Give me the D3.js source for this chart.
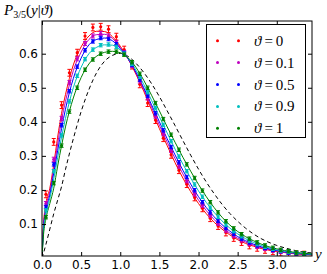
<!DOCTYPE html>
<html>
<head>
<meta charset="utf-8">
<script src="https://cdn.jsdelivr.net/npm/d3@7"></script>
<style>
  body { margin: 0; background: #fff; }
  svg { display: block; }
  .tick text { font-family: "DejaVu Sans", sans-serif; font-size: 12px; fill: #000; }
  .math { font-family: "Liberation Serif", "DejaVu Serif", serif; }
</style>
</head>
<body>
<svg id="chart" width="327" height="274"></svg>
<script>
// theta values shown in the legend
const thetas = ["0", "0.1", "0.5", "0.9", "1"];
const colors = ["#ff0000", "#bf00bf", "#0000ff", "#00bfbf", "#008000"];

// x positions of the smooth curves
const lineY = [0, 0.02, 0.05, 0.1, 0.15, 0.2, 0.25, 0.3, 0.4, 0.5, 0.6, 0.7, 0.8, 0.9, 1.0,
    1.1, 1.2, 1.3, 1.4, 1.5, 1.6, 1.7, 1.8, 1.9, 2.0, 2.1, 2.2, 2.3, 2.4, 2.5, 2.6, 2.7,
    2.8, 2.9, 3.0, 3.1, 3.2, 3.3, 3.4, 3.45];

// theory curves, one per theta
const line0 = [0, 0.10, 0.16, 0.205, 0.275, 0.355, 0.425, 0.48, 0.567, 0.62, 0.652, 0.666, 0.665, 0.65, 0.622,
    0.585, 0.54, 0.49, 0.435, 0.38, 0.33, 0.28, 0.235, 0.195, 0.16, 0.13, 0.105, 0.085, 0.068, 0.054, 0.043, 0.035,
    0.028, 0.023, 0.019, 0.016, 0.013, 0.011, 0.010, 0.009];
const line01 = [0, 0.095, 0.15, 0.195, 0.262, 0.335, 0.405, 0.46, 0.55, 0.605, 0.642, 0.656, 0.657, 0.645, 0.618,
    0.585, 0.543, 0.495, 0.443, 0.39, 0.34, 0.292, 0.247, 0.206, 0.17, 0.139, 0.113, 0.091, 0.073, 0.058, 0.047, 0.038,
    0.031, 0.025, 0.021, 0.017, 0.014, 0.012, 0.011, 0.010];
const line05 = [0, 0.09, 0.14, 0.185, 0.25, 0.315, 0.38, 0.437, 0.527, 0.587, 0.626, 0.642, 0.646, 0.638, 0.615,
    0.585, 0.546, 0.50, 0.45, 0.40, 0.35, 0.303, 0.258, 0.217, 0.18, 0.148, 0.121, 0.098, 0.079, 0.063, 0.051, 0.041,
    0.033, 0.027, 0.022, 0.018, 0.015, 0.013, 0.011, 0.011];
const line09 = [0, 0.08, 0.13, 0.175, 0.232, 0.295, 0.355, 0.41, 0.50, 0.56, 0.60, 0.619, 0.626, 0.625, 0.611,
    0.587, 0.552, 0.51, 0.463, 0.415, 0.367, 0.32, 0.276, 0.235, 0.197, 0.163, 0.134, 0.109, 0.088, 0.071, 0.057, 0.046,
    0.037, 0.030, 0.024, 0.020, 0.016, 0.014, 0.012, 0.011];
const line1 = [0, 0.07, 0.115, 0.16, 0.205, 0.27, 0.33, 0.385, 0.47, 0.53, 0.57, 0.593, 0.604, 0.607, 0.603,
    0.588, 0.56, 0.522, 0.478, 0.432, 0.385, 0.34, 0.296, 0.255, 0.216, 0.18, 0.148, 0.12, 0.097, 0.078, 0.063, 0.051,
    0.041, 0.033, 0.027, 0.022, 0.018, 0.015, 0.013, 0.012];
// dashed reference curve
const lineRef = [0, 0.015, 0.04, 0.085, 0.13, 0.17, 0.21, 0.26, 0.35, 0.43, 0.495, 0.545, 0.578, 0.595, 0.601,
    0.592, 0.572, 0.545, 0.512, 0.474, 0.432, 0.389, 0.345, 0.302, 0.261, 0.223, 0.189, 0.158, 0.131, 0.108, 0.088, 0.071,
    0.057, 0.046, 0.037, 0.030, 0.024, 0.019, 0.016, 0.015];

// histogram bin centres of the simulated points
const binY = [0.05, 0.15, 0.25, 0.35, 0.45, 0.55, 0.65, 0.75, 0.85, 0.95, 1.05, 1.15, 1.25, 1.35, 1.45, 1.55, 1.65,
    1.75, 1.85, 1.95, 2.05, 2.15, 2.25, 2.35, 2.45, 2.55, 2.65, 2.75, 2.85, 2.95, 3.05, 3.15, 3.25, 3.35];

const pts0 = [0.187, 0.341, 0.449, 0.544, 0.603, 0.652, 0.677, 0.679, 0.672, 0.650, 0.612, 0.565, 0.51, 0.455,
    0.405, 0.352, 0.303, 0.258, 0.217, 0.178, 0.146, 0.117, 0.094, 0.075, 0.059, 0.047, 0.037, 0.030, 0.024, 0.020,
    0.016, 0.013, 0.011, 0.010];
const pts01 = [0.16, 0.29, 0.41, 0.515, 0.585, 0.63, 0.652, 0.659, 0.652, 0.633, 0.603, 0.565, 0.52, 0.47,
    0.417, 0.365, 0.316, 0.27, 0.227, 0.188, 0.155, 0.126, 0.102, 0.082, 0.066, 0.053, 0.042, 0.034, 0.028, 0.023,
    0.019, 0.016, 0.013, 0.011];
const pts05 = [0.15, 0.275, 0.39, 0.49, 0.562, 0.61, 0.636, 0.646, 0.643, 0.628, 0.602, 0.567, 0.524, 0.476,
    0.425, 0.375, 0.326, 0.281, 0.238, 0.199, 0.164, 0.134, 0.109, 0.088, 0.071, 0.057, 0.046, 0.037, 0.030, 0.024,
    0.020, 0.016, 0.014, 0.012];
const pts09 = [0.14, 0.255, 0.36, 0.46, 0.535, 0.584, 0.612, 0.625, 0.627, 0.62, 0.60, 0.57, 0.532, 0.487,
    0.44, 0.391, 0.343, 0.298, 0.255, 0.216, 0.18, 0.148, 0.121, 0.098, 0.079, 0.064, 0.051, 0.041, 0.033, 0.027,
    0.022, 0.018, 0.015, 0.013];
const pts1 = [0.12, 0.22, 0.33, 0.43, 0.50, 0.553, 0.583, 0.60, 0.606, 0.606, 0.597, 0.575, 0.541, 0.50,
    0.455, 0.408, 0.362, 0.318, 0.275, 0.235, 0.198, 0.164, 0.134, 0.108, 0.087, 0.07, 0.057, 0.046, 0.037, 0.030,
    0.024, 0.020, 0.016, 0.014];
// error bar half height for each series
const errs = [0.01, 0.006, 0.005, 0.005, 0.005];

const xTicks = [0.0, 0.5, 1.0, 1.5, 2.0, 2.5, 3.0];
const yTicks = [0.1, 0.2, 0.3, 0.4, 0.5, 0.6];

const lines = [line0, line01, line05, line09, line1];
const points = [pts0, pts01, pts05, pts09, pts1];

const LEFT = 42, RIGHT = 312, TOP = 21, BOTTOM = 256;

const svg = d3.select("#chart");

const x = d3.scaleLinear().domain([0, 3.45]).range([LEFT, RIGHT]);
const y = d3.scaleLinear().domain([0.006, 0.696]).range([BOTTOM, TOP]);

svg.append("clipPath").attr("id", "plotClip")
    .append("rect")
    .attr("x", LEFT).attr("y", TOP)
    .attr("width", RIGHT - LEFT).attr("height", BOTTOM - TOP);

const plot = svg.append("g").attr("clip-path", "url(#plotClip)");

const curve = d3.line()
    .x((d, i) => x(lineY[i]))
    .y(d => y(d))
    .curve(d3.curveMonotoneX);

// dashed reference goes under the coloured ones
plot.append("path")
    .attr("d", curve(lineRef))
    .attr("fill", "none")
    .attr("stroke", "#000")
    .attr("stroke-width", 1)
    .attr("stroke-dasharray", "4,3");

lines.forEach(function(vals, s) {
    plot.append("path")
        .attr("d", curve(vals))
        .attr("fill", "none")
        .attr("stroke", colors[s])
        .attr("stroke-width", 1);
});

// simulated points with error bars
points.forEach(function(vals, s) {
    const g = plot.append("g").attr("stroke", colors[s]).attr("fill", colors[s]);
    vals.forEach(function(v, i) {
        const cx = x(binY[i]);
        const lo = y(v - errs[s]), hi = y(v + errs[s]);
        g.append("line").attr("x1", cx).attr("x2", cx).attr("y1", lo).attr("y2", hi).attr("stroke-width", 1);
        g.append("line").attr("x1", cx - 2).attr("x2", cx + 2).attr("y1", lo).attr("y2", lo).attr("stroke-width", 1);
        g.append("line").attr("x1", cx - 2).attr("x2", cx + 2).attr("y1", hi).attr("y2", hi).attr("stroke-width", 1);
        g.append("circle").attr("cx", cx).attr("cy", y(v)).attr("r", 1.6).attr("stroke", "none");
    });
});

// axes, ticks pointing inwards on all four sides
const fmt = d3.format(".1f");
svg.append("g").attr("transform", "translate(0," + BOTTOM + ")")
    .call(d3.axisBottom(x).tickValues(xTicks).tickSize(-4).tickSizeOuter(0).tickPadding(4).tickFormat(fmt));
svg.append("g").attr("transform", "translate(0," + TOP + ")")
    .call(d3.axisTop(x).tickValues(xTicks).tickSize(-4).tickSizeOuter(0).tickFormat(""));
svg.append("g").attr("transform", "translate(" + LEFT + ",0)")
    .call(d3.axisLeft(y).tickValues(yTicks).tickSize(-4).tickSizeOuter(0).tickPadding(4).tickFormat(fmt));
svg.append("g").attr("transform", "translate(" + RIGHT + ",0)")
    .call(d3.axisRight(y).tickValues(yTicks).tickSize(-4).tickSizeOuter(0).tickFormat(""));
svg.selectAll(".domain").remove();

svg.append("rect")
    .attr("x", LEFT).attr("y", TOP)
    .attr("width", RIGHT - LEFT).attr("height", BOTTOM - TOP)
    .attr("fill", "none").attr("stroke", "#000").attr("stroke-width", 1);

// y axis title (top left)
const title = svg.append("text").attr("class", "math")
    .attr("x", 4).attr("y", 15).attr("font-size", 15);
title.append("tspan").attr("font-style", "italic").text("P");
title.append("tspan").attr("font-size", 10).attr("dy", 3).text("3/5");
title.append("tspan").attr("dy", -3).text("(");
title.append("tspan").attr("font-style", "italic").text("y");
title.append("tspan").text("|");
title.append("tspan").attr("font-style", "italic").text("ϑ");
title.append("tspan").text(")");

// x axis label at the right end
svg.append("text").attr("class", "math")
    .attr("x", 315).attr("y", 259).attr("font-size", 15).attr("font-style", "italic")
    .text("y");

// legend
const legend = svg.append("g");
legend.append("rect")
    .attr("x", 206.5).attr("y", 24.5).attr("width", 99).attr("height", 113)
    .attr("fill", "#fff").attr("stroke", "#000").attr("stroke-width", 1);
thetas.forEach(function(t, i) {
    const ly = 40.7 + i * 21.9;
    [217.5, 238.5].forEach(function(lx) {
        legend.append("circle").attr("cx", lx).attr("cy", ly).attr("r", 1.5).attr("fill", colors[i]);
    });
    const tx = legend.append("text").attr("class", "math")
        .attr("x", 254).attr("y", ly + 5).attr("font-size", 15);
    tx.append("tspan").attr("font-style", "italic").text("ϑ");
    tx.append("tspan").text("\u2009=\u2009" + t);
});
</script>
</body>
</html>
